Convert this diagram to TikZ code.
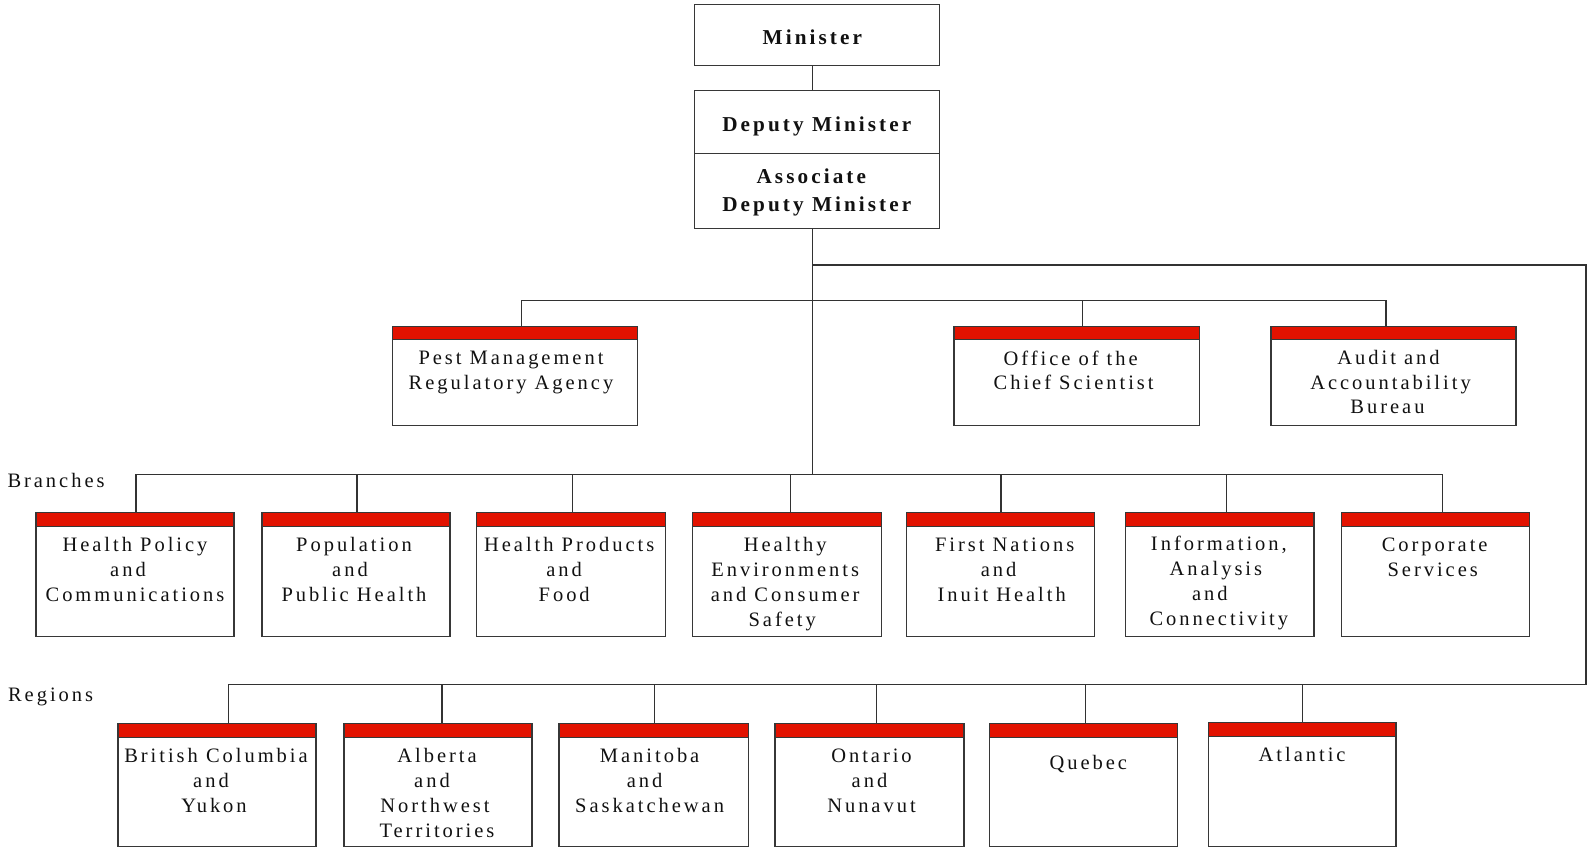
\documentclass[tikz,border=0pt]{standalone}
\usepackage{fontspec}
\setmainfont{Liberation Serif}[LetterSpace=14.5]
\definecolor{barred}{RGB}{226,18,0}
\definecolor{linec}{RGB}{50,50,50}
\definecolor{boxc}{RGB}{55,55,55}
\definecolor{txtc}{RGB}{17,17,17}
\newcommand\padr[1]{\rule{#1}{0pt}}
\tikzset{
  conn/.style={draw=linec, line width=1.3pt},
  plainbox/.style 2 args={draw=boxc, line width=1.3pt, fill=white, inner sep=0pt,
    rectangle, minimum width=#1, minimum height=#2},
  unit/.style n args={3}{plainbox={#1}{#2},
    path picture={
      \fill[barred] (path picture bounding box.north west) rectangle
        ([yshift=-#3]path picture bounding box.north east);
      \draw[boxc, line width=1.3pt] ([yshift=-#3]path picture bounding box.north west) --
        ([yshift=-#3]path picture bounding box.north east);}},
  lbl/.style={inner sep=0pt, align=center, text=txtc,
    font=\fontsize{20.5}{25}\selectfont, execute at begin node={\rule{0pt}{16pt}}},
  uplbl/.style={lbl, font=\fontsize{20.5}{24.5}\selectfont},
  toptext/.style={text=txtc, font=\bfseries\fontsize{21.2}{28.4}\selectfont},
  boldlbl/.style={inner sep=0pt, align=center, text=txtc,
    font=\bfseries\fontsize{21.2}{28.4}\selectfont, execute at begin node={\rule{0pt}{16pt}}}
}
\begin{document}
\begin{tikzpicture}[x=1pt,y=-1pt]
\useasboundingbox (0,0) rectangle (1587,849);

% coordinates of the trunk
\coordinate (trunk) at (812.7,265);
\coordinate (rtop) at (1586,265);
\coordinate (rbot) at (1586,684.7);
\coordinate (uline) at (812.7,300.7);
\coordinate (bline) at (812.7,474.7);

% top boxes
\node[plainbox={245pt}{61.4pt}, toptext, text height=18pt, text depth=0pt] (min) at (816.8,35) {Minister\padr{9pt}};
\node[plainbox={245pt}{62.6pt}, toptext, text height=19.4pt, text depth=0pt] (dm) at (816.8,122) {Deputy Minister};
\node[plainbox={245pt}{75pt}] (adm) at (816.8,190.8) {};
\node[boldlbl, anchor=north] (adm-t) at ([yshift=-16pt]adm.north) {Associate\padr{11pt}\\Deputy Minister};

% upper units
\node[unit={245.4pt}{99pt}{12.5pt}] (pmra) at (515,376.2) {};
\node[unit={245.3pt}{99pt}{12.5pt}] (ocs) at (1076.65,376.2) {};
\node[unit={245pt}{99pt}{12.5pt}] (aab) at (1393.5,376.2) {};
\node[uplbl, anchor=north] (pmra-t) at ([xshift=-4pt,yshift=-25pt]pmra.north) {Pest Management\\Regulatory Agency};
\node[uplbl, anchor=north] (ocs-t) at ([xshift=-3pt,yshift=-24.5pt]ocs.north) {Office of the\padr{6pt}\\Chief Scientist};
\node[uplbl, anchor=north] (aab-t) at ([xshift=-3pt,yshift=-24.5pt]aab.north) {Audit and\padr{4pt}\\Accountability\\Bureau\padr{6pt}};

% branches
\node[lbl, anchor=base west] (branches) at (7.3,487.7) {Branches};
\node[unit={198pt}{124pt}{14pt}] (hpc) at (135,574.7) {};
\node[unit={188pt}{124pt}{14pt}] (pph) at (356,574.7) {};
\node[unit={189pt}{124pt}{14pt}] (hpf) at (571.2,574.7) {};
\node[unit={189pt}{124pt}{14pt}] (hecs) at (787.2,574.7) {};
\node[unit={188pt}{124pt}{14pt}] (fnih) at (1000.7,574.7) {};
\node[unit={188.3pt}{124pt}{14pt}] (iac) at (1219.85,574.7) {};
\node[unit={188pt}{124pt}{14pt}] (cs) at (1435.7,574.7) {};
\node[lbl, anchor=north] (hpc-t) at ([yshift=-25.5pt]hpc.north) {Health Policy\\and\padr{14pt}\\Communications};
\node[lbl, anchor=north] (pph-t) at ([xshift=-2pt,yshift=-25.5pt]pph.north) {Population\\and\padr{8pt}\\Public Health};
\node[lbl, anchor=north] (hpf-t) at ([xshift=-2pt,yshift=-25.5pt]hpf.north) {Health Products\\and\padr{10pt}\\Food\padr{10pt}};
\node[lbl, anchor=north] (hecs-t) at ([xshift=-2pt,yshift=-25.5pt]hecs.north) {Healthy\\Environments\\and Consumer\\Safety\padr{6pt}};
\node[lbl, anchor=north] (fnih-t) at ([xshift=4pt,yshift=-25.5pt]fnih.north) {First Nations\\and\padr{12pt}\\Inuit Health\padr{6pt}};
\node[lbl, anchor=north] (iac-t) at ([xshift=-1pt,yshift=-23.8pt]iac.north) {Information,\\Analysis\padr{6pt}\\and\padr{18pt}\\Connectivity};
\node[lbl, anchor=north] (cs-t) at ([xshift=-1pt,yshift=-25.5pt]cs.north) {Corporate\\Services\padr{4pt}};

% regions
\node[lbl, anchor=base west] (regions) at (7.9,701) {Regions};
\node[unit={198pt}{123.2pt}{14pt}] (bc) at (217,785.1) {};
\node[unit={188pt}{123.2pt}{14pt}] (ab) at (438,785.1) {};
\node[unit={189.3pt}{123.2pt}{14pt}] (mb) at (653.65,785.1) {};
\node[unit={189pt}{123.2pt}{14pt}] (on) at (869.5,785.1) {};
\node[unit={188pt}{123.2pt}{14pt}] (qc) at (1083.3,785.1) {};
\node[unit={187.7pt}{124pt}{14pt}] (at) at (1302.15,784.7) {};
\node[lbl, anchor=north] (bc-t) at ([xshift=-1pt,yshift=-25.5pt]bc.north) {British Columbia\\and\padr{10pt}\\Yukon\padr{4pt}};
\node[lbl, anchor=north] (ab-t) at ([xshift=-1pt,yshift=-25.5pt]ab.north) {Alberta\\and\padr{10pt}\\Northwest\padr{4pt}\\Territories};
\node[lbl, anchor=north] (mb-t) at ([xshift=-4pt,yshift=-25.5pt]mb.north) {Manitoba\\and\padr{10pt}\\Saskatchewan};
\node[lbl, anchor=north] (on-t) at ([xshift=2pt,yshift=-25.5pt]on.north) {Ontario\\and\padr{4pt}\\Nunavut};
\node[lbl, anchor=north] (qc-t) at ([xshift=5pt,yshift=-30pt]qc.north) {Quebec};
\node[lbl, anchor=north] (at-t) at ([yshift=-23pt]at.north) {Atlantic};

% connectors
\draw[conn] (min.south -| trunk) -- (dm.north -| trunk);
\draw[conn] (adm.south -| trunk) -- (bline);
\draw[conn] (trunk) -- (rtop) -- (rbot) -| ([xshift=11.6pt]bc.north);
\draw[conn] ([xshift=6.7pt]pmra.north) |- (uline);
\draw[conn] ([xshift=5.6pt]ocs.north) |- (uline);
\draw[conn] ([xshift=-7.5pt]aab.north) |- (uline);
\draw[conn] ([xshift=1pt]hpc.north) |- (bline);
\draw[conn] ([xshift=1pt]pph.north) |- (bline);
\draw[conn] ([xshift=1.5pt]hpf.north) |- (bline);
\draw[conn] ([xshift=3.5pt]hecs.north) |- (bline);
\draw[conn] ([xshift=0.3pt]fnih.north) |- (bline);
\draw[conn] ([xshift=6.85pt]iac.north) |- (bline);
\draw[conn] ([xshift=7pt]cs.north) |- (bline);
\draw[conn] (rbot) -| ([xshift=4pt]ab.north);
\draw[conn] (rbot) -| ([xshift=1.05pt]mb.north);
\draw[conn] (rbot) -| ([xshift=7.2pt]on.north);
\draw[conn] (rbot) -| ([xshift=2.4pt]qc.north);
\draw[conn] (rbot) -| ([xshift=0.15pt]at.north);
\end{tikzpicture}
\end{document}
